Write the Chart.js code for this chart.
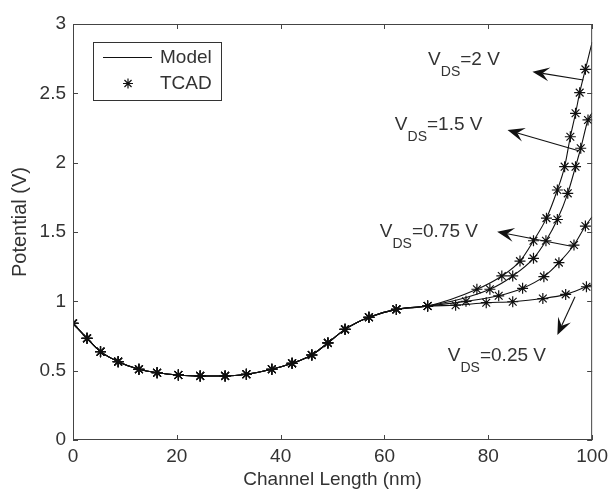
<!DOCTYPE html>
<html>
<head>
<meta charset="utf-8">
<script src="https://cdn.jsdelivr.net/npm/chart.js@4.4.1/dist/chart.umd.min.js"></script>
<style>
  html, body { margin: 0; padding: 0; background: #fff; }
</style>
</head>
<body>
<canvas id="chart" width="613" height="489"></canvas>
<script>
const xTicks = [0, 20, 40, 60, 80, 100]
const xTickLabels = ['0', '20', '40', '60', '80', '100']
const yTicks = [0, 0.5, 1, 1.5, 2, 2.5, 3]
const yTickLabels = ['0', '0.5', '1', '1.5', '2', '2.5', '3']

// part of the profile that is the same for every V_DS
const sharedNm = [0, 2.7, 5.3, 8.7, 12.7, 16.2, 20.3, 24.5, 29.3, 33.4, 38.3, 42.2, 46.0, 49.1, 52.4, 57.0, 62.3, 68.3]
const sharedV = [0.841, 0.733, 0.637, 0.565, 0.51, 0.485, 0.469, 0.462, 0.462, 0.474, 0.51, 0.553, 0.613, 0.70, 0.798, 0.885, 0.942, 0.966]

// drain side, TCAD samples per V_DS
const tailNm2 = [77.8, 82.6, 86.1, 88.7, 91.2, 93.3, 94.7, 95.8, 96.8, 97.6, 98.7]
const tailV2 = [1.087, 1.183, 1.29, 1.437, 1.6, 1.803, 1.971, 2.187, 2.356, 2.505, 2.673]
const tailNm15 = [80.3, 84.7, 88.7, 91.1, 93.3, 95.3, 96.8, 97.8, 99.2]
const tailV15 = [1.087, 1.183, 1.31, 1.437, 1.59, 1.779, 1.971, 2.104, 2.308]
const tailNm075 = [75.7, 82.0, 86.6, 90.7, 93.6, 96.5, 98.7]
const tailV075 = [1.0, 1.04, 1.094, 1.178, 1.279, 1.406, 1.543]
const tailNm025 = [73.7, 79.6, 84.7, 90.5, 94.9, 98.9]
const tailV025 = [0.972, 0.99, 0.997, 1.02, 1.05, 1.105]

// model value at the drain (x = 100 nm)
const drainNm = 100
const drainV = { v2: 2.87, v15: 2.36, v075: 1.61, v025: 1.12 }

const labels = [
  { text: '=2 V', nm: 68.4, v: 2.704 },
  { text: '=1.5 V', nm: 62.0, v: 2.232 },
  { text: '=0.75 V', nm: 59.1, v: 1.462 },
  { text: '=0.25 V', nm: 72.2, v: 0.572 }
]
const arrows = [
  { fromNm: 98.3, fromV: 2.596, toNm: 88.5, toV: 2.656 },
  { fromNm: 97.4, fromV: 2.086, toNm: 83.7, toV: 2.235 },
  { fromNm: 96.5, fromV: 1.394, toNm: 81.7, toV: 1.502 },
  { fromNm: 96.7, fromV: 1.033, toNm: 93.3, toV: 0.757 }
]

const axisColor = '#444'
const textColor = '#333'
const fontFamily = '"Liberation Sans", Arial, Helvetica, sans-serif'

const toPoints = (xs, ys) => xs.map((x, i) => ({ x: x, y: ys[i] }))

const modelLine = (tailNm, tailV, endV) => ({
  type: 'line',
  data: toPoints(sharedNm.concat(tailNm, [drainNm]), sharedV.concat(tailV, [endV])),
  borderColor: '#111',
  borderWidth: 1.1,
  pointRadius: 0,
  cubicInterpolationMode: 'monotone',
  fill: false
})

const tcadPoints = (tailNm, tailV) => ({
  type: 'scatter',
  data: toPoints(sharedNm.concat(tailNm), sharedV.concat(tailV)),
  pointStyle: 'star',
  pointRadius: 5.5,
  borderColor: '#111',
  backgroundColor: '#111',
  borderWidth: 1.2
})

const drawStar = (ctx, cx, cy, r) => {
  const d = r * Math.SQRT1_2
  ctx.beginPath()
  ctx.moveTo(cx - r, cy); ctx.lineTo(cx + r, cy)
  ctx.moveTo(cx, cy - r); ctx.lineTo(cx, cy + r)
  ctx.moveTo(cx - d, cy - d); ctx.lineTo(cx + d, cy + d)
  ctx.moveTo(cx - d, cy + d); ctx.lineTo(cx + d, cy - d)
  ctx.stroke()
}

const matlabAxes = {
  id: 'matlabAxes',
  afterDraw(chart) {
    const { ctx, chartArea: a, scales: { x, y } } = chart
    ctx.save()
    ctx.strokeStyle = axisColor
    ctx.lineWidth = 1
    ctx.strokeRect(a.left + 0.5, a.top + 0.5, a.right - a.left - 1, a.bottom - a.top - 1)
    ctx.beginPath()
    xTicks.forEach(v => {
      const px = Math.round(x.getPixelForValue(v)) + 0.5
      ctx.moveTo(px, a.bottom); ctx.lineTo(px, a.bottom - 5)
      ctx.moveTo(px, a.top); ctx.lineTo(px, a.top + 5)
    })
    yTicks.forEach(v => {
      const py = Math.round(y.getPixelForValue(v)) + 0.5
      ctx.moveTo(a.left, py); ctx.lineTo(a.left + 5, py)
      ctx.moveTo(a.right, py); ctx.lineTo(a.right - 5, py)
    })
    ctx.stroke()

    // y title
    ctx.fillStyle = textColor
    ctx.font = '20px ' + fontFamily
    ctx.textAlign = 'center'
    ctx.textBaseline = 'middle'
    ctx.translate(20, 222)
    ctx.rotate(-Math.PI / 2)
    ctx.fillText('Potential (V)', 0, 0)
    ctx.restore()

    // V_DS labels
    ctx.save()
    ctx.fillStyle = textColor
    ctx.textBaseline = 'alphabetic'
    ctx.textAlign = 'left'
    labels.forEach(l => {
      let px = x.getPixelForValue(l.nm)
      const py = y.getPixelForValue(l.v)
      ctx.font = '19px ' + fontFamily
      ctx.fillText('V', px, py)
      px += ctx.measureText('V').width
      ctx.font = '14px ' + fontFamily
      ctx.fillText('DS', px, py + 11)
      px += ctx.measureText('DS').width
      ctx.font = '19px ' + fontFamily
      ctx.fillText(l.text, px, py)
    })

    // arrows
    ctx.strokeStyle = '#111'
    ctx.fillStyle = '#111'
    ctx.lineWidth = 1.1
    arrows.forEach(ar => {
      const x0 = x.getPixelForValue(ar.fromNm)
      const y0 = y.getPixelForValue(ar.fromV)
      const x1 = x.getPixelForValue(ar.toNm)
      const y1 = y.getPixelForValue(ar.toV)
      const ang = Math.atan2(y1 - y0, x1 - x0)
      const len = 17
      const half = 7
      ctx.beginPath()
      ctx.moveTo(x0, y0)
      ctx.lineTo(x1 - Math.cos(ang) * len * 0.6, y1 - Math.sin(ang) * len * 0.6)
      ctx.stroke()
      ctx.save()
      ctx.translate(x1, y1)
      ctx.rotate(ang)
      ctx.beginPath()
      ctx.moveTo(0, 0)
      ctx.lineTo(-len, -half)
      ctx.lineTo(-len * 0.6, 0)
      ctx.lineTo(-len, half)
      ctx.closePath()
      ctx.fill()
      ctx.restore()
    })

    // legend box
    const lx = a.left + 20
    const ly = a.top + 18
    ctx.fillStyle = '#fff'
    ctx.fillRect(lx, ly, 128, 58)
    ctx.strokeStyle = '#333'
    ctx.lineWidth = 1
    ctx.strokeRect(lx + 0.5, ly + 0.5, 128, 58)
    ctx.strokeStyle = '#111'
    ctx.beginPath()
    ctx.moveTo(lx + 10, ly + 15.5)
    ctx.lineTo(lx + 59, ly + 15.5)
    ctx.stroke()
    ctx.lineWidth = 1.2
    drawStar(ctx, lx + 35, ly + 41.5, 5)
    ctx.fillStyle = textColor
    ctx.font = '19px ' + fontFamily
    ctx.textBaseline = 'middle'
    ctx.fillText('Model', lx + 67, ly + 16)
    ctx.fillText('TCAD', lx + 67, ly + 42)
    ctx.restore()
  }
}

new Chart(document.getElementById('chart'), {
  data: {
    datasets: [
      modelLine(tailNm2, tailV2, drainV.v2),
      modelLine(tailNm15, tailV15, drainV.v15),
      modelLine(tailNm075, tailV075, drainV.v075),
      modelLine(tailNm025, tailV025, drainV.v025),
      tcadPoints(tailNm2, tailV2),
      tcadPoints(tailNm15, tailV15),
      tcadPoints(tailNm075, tailV075),
      tcadPoints(tailNm025, tailV025)
    ]
  },
  options: {
    responsive: false,
    animation: false,
    layout: { padding: { left: 0, right: 18, top: 24, bottom: 0 } },
    plugins: { legend: { display: false }, tooltip: { enabled: false } },
    scales: {
      x: {
        type: 'linear',
        min: 0,
        max: 100,
        grid: { display: false, drawTicks: false },
        border: { display: false },
        afterBuildTicks: s => { s.ticks = xTicks.map(v => ({ value: v })) },
        afterFit: s => { s.height = 49 },
        ticks: {
          padding: 5,
          color: textColor,
          font: { family: fontFamily, size: 19 },
          callback: (v, i) => xTickLabels[i]
        },
        title: {
          display: true,
          text: 'Channel Length (nm)',
          color: textColor,
          font: { family: fontFamily, size: 19, lineHeight: 1 },
          padding: 0
        }
      },
      y: {
        type: 'linear',
        min: 0,
        max: 3,
        grid: { display: false, drawTicks: false },
        border: { display: false },
        afterBuildTicks: s => { s.ticks = yTicks.map(v => ({ value: v })) },
        afterFit: s => { s.width = 73 },
        ticks: {
          padding: 7,
          color: textColor,
          font: { family: fontFamily, size: 19 },
          callback: (v, i) => yTickLabels[i]
        }
      }
    }
  },
  plugins: [matlabAxes]
})
</script>
</body>
</html>
